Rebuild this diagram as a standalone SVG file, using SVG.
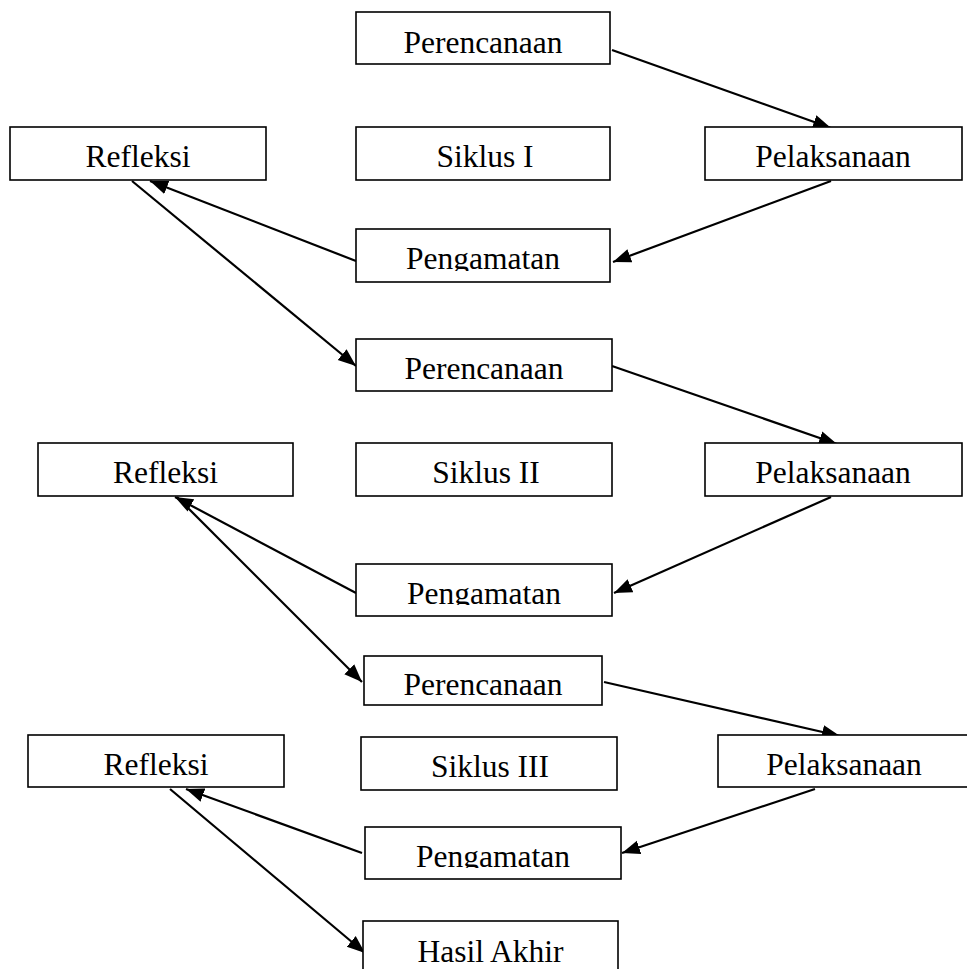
<svg xmlns="http://www.w3.org/2000/svg" width="967" height="969" viewBox="0 0 967 969">
<style>
.box{fill:#fff;stroke:#000;stroke-width:1.6}
.t{font-family:"Liberation Serif","Times New Roman",serif;font-size:31.5px;fill:#000;text-anchor:middle}
.c{fill:none;stroke:#000;stroke-width:2.2;marker-end:url(#ah)}
</style>
<defs>
<marker id="ah" markerUnits="userSpaceOnUse" markerWidth="20" markerHeight="16" refX="18" refY="7" orient="auto" viewBox="0 0 20 14">
<path d="M0,0 L18,7 L0,14 Z" fill="#000"/>
</marker>
<clipPath id="cg1"><rect x="356" y="229" width="254" height="42"/></clipPath>
<clipPath id="cg2"><rect x="356" y="564" width="256" height="41"/></clipPath>
<clipPath id="cg3"><rect x="365" y="827" width="256" height="41"/></clipPath>
</defs>
<rect width="967" height="969" fill="#fff"/>
<g id="connectors">
<line class="c" x1="612" y1="50" x2="831" y2="128"/>
<line class="c" x1="831" y1="181" x2="613" y2="262"/>
<line class="c" x1="356" y1="261" x2="150" y2="181"/>
<line class="c" x1="132" y1="181" x2="356" y2="366"/>
<line class="c" x1="612" y1="366" x2="837" y2="444"/>
<line class="c" x1="831" y1="497" x2="614" y2="593"/>
<line class="c" x1="356" y1="593" x2="175" y2="497"/>
<line class="c" x1="177" y1="497" x2="362" y2="682"/>
<line class="c" x1="604" y1="682" x2="840" y2="736"/>
<line class="c" x1="815" y1="789" x2="622" y2="853"/>
<line class="c" x1="362" y1="853" x2="186" y2="789"/>
<line class="c" x1="170" y1="789" x2="365" y2="953"/>
</g>
<g id="perencanaan1"><rect class="box" x="356" y="12" width="254" height="52"/><text class="t" x="483" y="52.5">Perencanaan</text></g>
<g id="refleksi1"><rect class="box" x="10" y="127" width="256" height="53"/><text class="t" x="138" y="167">Refleksi</text></g>
<g id="siklus1"><rect class="box" x="356" y="127" width="254" height="53"/><text class="t" x="485" y="167">Siklus I</text></g>
<g id="pelaksanaan1"><rect class="box" x="705" y="127" width="257" height="53"/><text class="t" x="833" y="167">Pelaksanaan</text></g>
<g id="pengamatan1"><rect class="box" x="356" y="229" width="254" height="53"/><text class="t" x="483" y="269" clip-path="url(#cg1)">Pengamatan</text></g>
<g id="perencanaan2"><rect class="box" x="356" y="339" width="256" height="52"/><text class="t" x="484" y="379">Perencanaan</text></g>
<g id="refleksi2"><rect class="box" x="38" y="443" width="255" height="53"/><text class="t" x="165.5" y="482.5">Refleksi</text></g>
<g id="siklus2"><rect class="box" x="356" y="443" width="256" height="53"/><text class="t" x="486" y="482.5">Siklus II</text></g>
<g id="pelaksanaan2"><rect class="box" x="705" y="443" width="257" height="53"/><text class="t" x="833" y="482.5">Pelaksanaan</text></g>
<g id="pengamatan2"><rect class="box" x="356" y="564" width="256" height="52"/><text class="t" x="484" y="603.5" clip-path="url(#cg2)">Pengamatan</text></g>
<g id="perencanaan3"><rect class="box" x="364" y="656" width="238" height="49"/><text class="t" x="483" y="695">Perencanaan</text></g>
<g id="refleksi3"><rect class="box" x="28" y="735" width="256" height="52"/><text class="t" x="156" y="775">Refleksi</text></g>
<g id="siklus3"><rect class="box" x="361" y="737" width="256" height="53"/><text class="t" x="490" y="777">Siklus III</text></g>
<g id="pelaksanaan3"><rect class="box" x="718" y="735" width="262" height="52"/><text class="t" x="844" y="775">Pelaksanaan</text></g>
<g id="pengamatan3"><rect class="box" x="365" y="827" width="256" height="52"/><text class="t" x="493" y="867" clip-path="url(#cg3)">Pengamatan</text></g>
<g id="hasil"><rect class="box" x="363" y="921" width="255" height="60"/><text class="t" x="490.5" y="961.5">Hasil Akhir</text></g>
</svg>
